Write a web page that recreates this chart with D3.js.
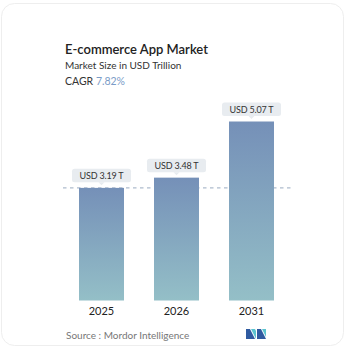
<!DOCTYPE html>
<html><head><meta charset="utf-8">
<script src="https://cdn.jsdelivr.net/npm/d3@7"></script>
<style>html,body{margin:0;padding:0;background:#fff;}svg{display:block;}</style>
</head><body>
<svg id="c" width="346" height="349"></svg>
<script>
const categories = ["2025", "2026", "2031"];
const values = [3.19, 3.48, 5.07];
const valueLabels = ["USD 3.19 T", "USD 3.48 T", "USD 5.07 T"];
const title = "E-commerce App Market";
const subtitle = "Market Size in USD Trillion";
const cagr = "7.82%";

const svg = d3.select("#c");
const font = "Lato, 'Open Sans', sans-serif";

svg.append("rect").attr("x", 1.5).attr("y", 3.5).attr("width", 342).attr("height", 342)
  .attr("rx", 13).attr("fill", "#fff").attr("stroke", "#eeeeee").attr("stroke-width", 1);

const defs = svg.append("defs");
const g = defs.append("linearGradient").attr("id", "bg").attr("x1", 0).attr("y1", 0).attr("x2", 0).attr("y2", 1);
g.append("stop").attr("offset", "0%").attr("stop-color", "#7590b8");
g.append("stop").attr("offset", "100%").attr("stop-color", "#94bfc7");

svg.append("text").attr("x", 65).attr("y", 54).text(title)
  .attr("font-family", font).attr("font-size", 13).attr("font-weight", 600).attr("fill", "#222");
svg.append("text").attr("x", 65).attr("y", 69).text(subtitle)
  .attr("font-family", font).attr("font-size", 10).attr("fill", "#333");
const ct = svg.append("text").attr("x", 65).attr("y", 85)
  .attr("font-family", font).attr("font-size", 10.5).attr("fill", "#333");
ct.append("tspan").text("CAGR ");
ct.append("tspan").attr("fill", "#7b9cc7").text(cagr);

const x = d3.scaleBand().domain(categories).range([64, 289]).paddingInner(0.4).paddingOuter(0.2);
const y = d3.scaleLinear().domain([0, 5.07]).range([300.5, 121.5]);

// dashed reference line at first bar
svg.append("line").attr("x1", 63).attr("x2", 291).attr("y1", y(values[0])).attr("y2", y(values[0]))
  .attr("stroke", "#aebccd").attr("stroke-width", 1.2).attr("stroke-dasharray", "3.5,3.5");

svg.selectAll("rect.bar").data(values).enter().append("rect").attr("class", "bar")
  .attr("x", (d, i) => x(categories[i])).attr("width", x.bandwidth())
  .attr("y", d => y(d)).attr("height", d => y(0) - y(d)).attr("fill", "url(#bg)");

// value labels
values.forEach((v, i) => {
  const cx = x(categories[i]) + x.bandwidth() / 2;
  const top = y(v);
  const w = 59, h = 13.5;
  const by = top - 5.5 - h;
  const lg = svg.append("g");
  lg.append("rect").attr("x", cx - w / 2).attr("y", by).attr("width", w).attr("height", h)
    .attr("rx", 2.5).attr("fill", "#e8ecf0");
  lg.append("path").attr("d", `M${cx - 3},${by + h} L${cx},${by + h + 3} L${cx + 3},${by + h} Z`).attr("fill", "#e8ecf0");
  lg.append("text").attr("x", cx).attr("y", by + 10).attr("text-anchor", "middle")
    .attr("font-family", font).attr("font-size", 9).attr("fill", "#333").attr("letter-spacing", -0.2).text(valueLabels[i]);
});

// x axis labels
const xa = svg.append("g").attr("transform", `translate(0,${y(0)})`)
  .call(d3.axisBottom(x).tickSize(0).tickPadding(5));
xa.select(".domain").remove();
xa.selectAll("text").attr("font-family", font).attr("font-size", 11).attr("fill", "#222").attr("dy", "0.9em");

svg.append("text").attr("x", 66).attr("y", 338.5).text("Source :  Mordor Intelligence")
  .attr("font-family", font).attr("font-size", 10).attr("fill", "#777");

// logo
const lx = 246, ly = 329;
svg.append("path").attr("d", `M${lx},${ly} L${lx+4},${ly} L${lx+9},${ly+10} L${lx},${ly+10} Z`).attr("fill", "#2f5aa0");
svg.append("path").attr("d", `M${lx+5},${ly} L${lx+9},${ly} L${lx+10},${ly+2} L${lx+10},${ly+10} Z`).attr("fill", "#5bc3cf");
svg.append("path").attr("d", `M${lx+11},${ly} L${lx+15},${ly} L${lx+20},${ly+10} L${lx+11},${ly+10} Z`).attr("fill", "#2f5aa0");
svg.append("path").attr("d", `M${lx+16},${ly} L${lx+20},${ly} L${lx+20},${ly+8} Z`).attr("fill", "#5bc3cf");
</script>
</body></html>
